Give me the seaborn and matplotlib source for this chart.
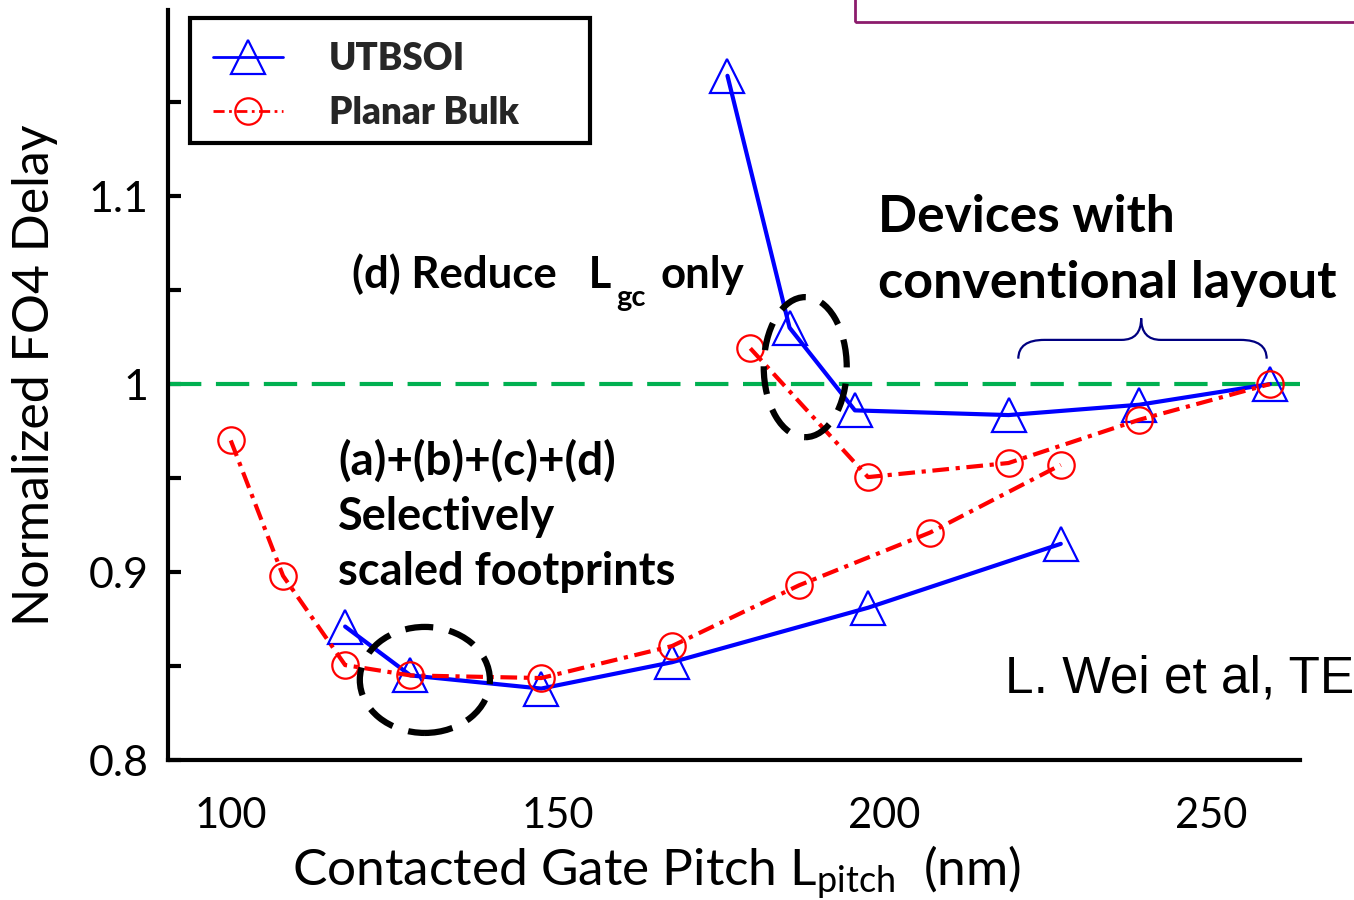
import matplotlib
matplotlib.use("Agg")
import matplotlib.pyplot as plt
import pandas as pd
import seaborn as sns
from matplotlib.patches import Ellipse, Rectangle, PathPatch
from matplotlib.path import Path
from matplotlib.lines import Line2D
from matplotlib.ticker import MultipleLocator, FuncFormatter

# ---- data: contacted gate pitch (nm) vs normalized FO4 delay ----
# UTBSOI, selectively scaled footprints
utb_scaled_pitch = [117.5, 127.5, 147.5, 167.5, 197.5, 227]
utb_scaled_delay = [0.871, 0.845, 0.838, 0.852, 0.881, 0.915]
# UTBSOI, reduce Lgc only (conventional layout)
utb_lgc_pitch = [176, 185.5, 195.5, 219, 239, 259]
utb_lgc_delay = [1.164, 1.030, 0.986, 0.9835, 0.989, 1.0]
# Planar bulk, selectively scaled footprints
bulk_scaled_pitch = [100, 108, 117.5, 127.5, 147.5, 167.5, 187, 207, 227]
bulk_scaled_delay = [0.970, 0.898, 0.8505, 0.845, 0.8436, 0.8606, 0.893, 0.921, 0.957]
# Planar bulk, reduce Lgc only (conventional layout)
bulk_lgc_pitch = [179.5, 197.5, 219, 239, 259]
bulk_lgc_delay = [1.019, 0.9505, 0.958, 0.981, 1.0]

x_ticks = [100, 150, 200, 250]

frames = []
for dev, cur, xs, ys in [
    ("UTBSOI", "utb_scaled", utb_scaled_pitch, utb_scaled_delay),
    ("UTBSOI", "utb_lgc", utb_lgc_pitch, utb_lgc_delay),
    ("Planar Bulk", "bulk_scaled", bulk_scaled_pitch, bulk_scaled_delay),
    ("Planar Bulk", "bulk_lgc", bulk_lgc_pitch, bulk_lgc_delay),
]:
    frames.append(pd.DataFrame({"pitch": xs, "delay": ys, "device": dev, "curve": cur}))
df = pd.concat(frames, ignore_index=True)

sns.set_theme(style="white")
plt.rcParams["font.family"] = ["Lato", "DejaVu Sans"]
plt.rcParams["mathtext.fontset"] = "custom"
plt.rcParams["mathtext.rm"] = "Lato"
plt.rcParams["mathtext.bf"] = "Lato:bold"
plt.rcParams["mathtext.it"] = "Lato:italic"

BLUE = "#0000FF"
RED = "#FF0000"
GREEN = "#00B050"

fig = plt.figure(figsize=(13.54, 9), dpi=100)
fig.patch.set_facecolor("white")
ax = fig.add_axes([168 / 1354, 140 / 900, 1132 / 1354, 750 / 900])

# reference line at normalized delay = 1
ax.axhline(1.0, color=GREEN, lw=3, ls=(0, (8, 3.5)), zorder=1)

palette = {"UTBSOI": BLUE, "Planar Bulk": RED}
sns.lineplot(
    data=df, x="pitch", y="delay", hue="device", style="device",
    units="curve", estimator=None, sort=False, palette=palette,
    markers={"UTBSOI": "^", "Planar Bulk": "o"},
    dashes={"UTBSOI": "", "Planar Bulk": (4, 1.6, 1, 1.6)},
    legend=False, ax=ax, lw=3, zorder=3,
)
for ln in ax.get_lines()[1:]:
    c = ln.get_color()
    ln.set_markerfacecolor("none")
    ln.set_markeredgecolor(c)
    ln.set_markeredgewidth(1.6)
    ln.set_markersize(25 if ln.get_marker() == "^" else 19)

ax.set_xlim(90.4, 263.6)
ax.set_ylim(0.8, 1.199)
ax.set_xticks(x_ticks)
ax.yaxis.set_major_locator(MultipleLocator(0.1))
ax.yaxis.set_minor_locator(MultipleLocator(0.05))
ax.yaxis.set_major_formatter(FuncFormatter(lambda v, p: f"{v:g}"))

for side in ["top", "right"]:
    ax.spines[side].set_visible(False)
for side in ["left", "bottom"]:
    ax.spines[side].set_linewidth(3)
    ax.spines[side].set_color("black")

ax.tick_params(axis="x", which="major", direction="in", length=9, width=3,
               labelsize=30, pad=27, colors="black")
ax.tick_params(axis="y", which="both", direction="in", length=9, width=3,
               labelsize=31, pad=14, colors="black", left=True)
ax.tick_params(axis="y", which="minor", labelleft=False)

ax.set_xlabel(r"Contacted Gate Pitch L$_{\mathrm{pitch}}$  (nm)", fontsize=37, color="black")
ax.xaxis.set_label_coords(0.432, -0.111)
ax.set_ylabel("Normalized FO4 Delay", fontsize=36, color="black")
ax.yaxis.set_label_coords(-0.097, 0.513)

# highlighted regions
for cx, cy, w, h in [(187.9, 1.009, 12.7, 0.0745), (129.7, 0.8426, 19.9, 0.0564)]:
    ax.add_patch(Ellipse((cx, cy), w, h, fill=False, ec="black", lw=4.5,
                         ls=(0, (4.5, 2.6)), zorder=4))

# brace over the conventional-layout points
x0, x1, xm = 220.5, 258.5, 239.3
y_end, y_bar, y_tip = 1.0135, 1.0235, 1.035
verts = [(x0, y_end), (x0, y_bar), (x0 + 4, y_bar), (xm - 3, y_bar),
         (xm, y_bar), (xm, y_tip), (xm, y_bar), (xm + 3, y_bar),
         (x1 - 4, y_bar), (x1, y_bar), (x1, y_end)]
codes = [Path.MOVETO, Path.CURVE3, Path.CURVE3, Path.LINETO,
         Path.CURVE3, Path.CURVE3, Path.CURVE3, Path.CURVE3,
         Path.LINETO, Path.CURVE3, Path.CURVE3]
ax.add_patch(PathPatch(Path(verts, codes), fill=False, ec="#000080", lw=1.6, zorder=2))

# annotations
bold = dict(fontweight="bold", color="black", va="baseline")
ax.text(118.5, 1.051, "(d) Reduce   L", fontsize=31.5, **bold)
ax.text(159.0, 1.0415, "gc", fontsize=21, **bold)
ax.text(165.7, 1.051, "only", fontsize=31.5, **bold)
ax.text(199.0, 1.0809, "Devices with", fontsize=37, **bold)
ax.text(199.0, 1.0457, "conventional layout", fontsize=37.5, **bold)
ax.text(116.4, 0.952, "(a)+(b)+(c)+(d)", fontsize=33, **bold)
ax.text(116.4, 0.9223, "Selectively", fontsize=32.5, **bold)
ax.text(116.4, 0.893, "scaled footprints", fontsize=32.5, **bold)
ax.text(218.5, 0.836, "L. Wei et al, TE", fontsize=37, color="black",
        va="baseline", family=["Liberation Sans", "DejaVu Sans"])

# legend with a heavy rectangular frame
handles = [
    Line2D([], [], color=BLUE, lw=2, marker="^", ms=25, mfc="none", mec=BLUE, mew=1.6),
    Line2D([], [], color=RED, lw=2, ls=(0, (4, 1.6, 1, 1.6)), marker="o", ms=19,
           mfc="none", mec=RED, mew=1.6),
]
leg = ax.legend(handles, ["UTBSOI", "Planar Bulk"], loc="upper left",
                bbox_to_anchor=(30 / 1132, 1 - 17 / 750), frameon=False,
                prop={"family": "Lato", "weight": "heavy", "size": 26.5},
                handlelength=1.9, handletextpad=1.25, labelspacing=0.55,
                borderaxespad=0)
ax.add_patch(Rectangle((22 / 1132, 1 - 133 / 750), 400 / 1132, 125 / 750,
                       transform=ax.transAxes, fill=False, ec="black", lw=3,
                       clip_on=False, zorder=5))

# framed caption box at the top right
fig.patches.append(Rectangle((855 / 1354, 1 - 22 / 900), 0.6, 0.2,
                             transform=fig.transFigure, fill=False,
                             ec="#8C1C6C", lw=2))

fig.savefig("out.png", dpi=100, facecolor="white")
